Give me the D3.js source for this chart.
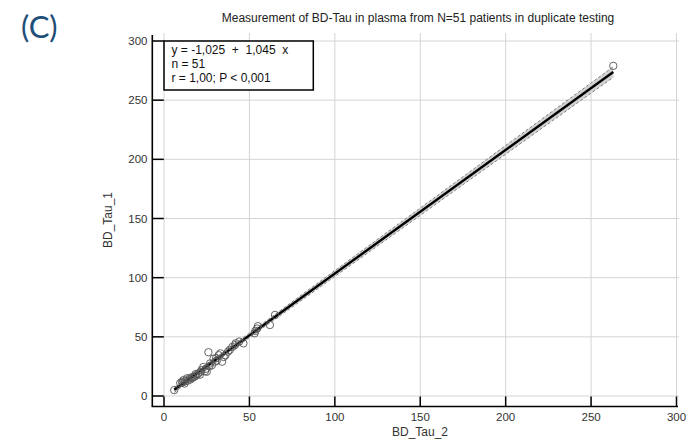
<!DOCTYPE html>
<html>
<head>
<meta charset="utf-8">
<script src="https://cdn.jsdelivr.net/npm/d3@7"></script>
<style>
  html, body { margin: 0; padding: 0; background: #fff; }
  svg { display: block; }
  text { font-family: "Liberation Sans", Arial, sans-serif; }
</style>
</head>
<body>
<svg id="chart" width="687" height="443"></svg>
<script>
// ---- data ----
const bdTau2 = [6, 9.5, 10.5, 11.5, 12, 12.5, 13.5, 14, 15, 15.5, 16.5, 17, 18, 19, 20, 21, 22, 23, 24, 25,
  26, 26.5, 27, 28, 29, 30, 31, 32, 33, 34, 35, 36, 37.5, 38.5, 40, 41.5, 42, 46.5, 53, 53.5,
  54.5, 55, 62, 65, 263, 18.5, 21.5, 24.5, 30.5, 44, 11];
const bdTau1 = [5, 11, 12, 13.5, 10.5, 12.5, 15, 13, 15, 14, 16, 15.5, 16.5, 17.5, 19, 18, 22, 24.5, 21, 20.5,
  37, 25, 27.5, 26, 31.5, 29, 30, 34.5, 36, 29, 33, 34.5, 37.5, 39, 41.5, 43, 44.5, 44.5, 53, 55,
  57, 59, 60, 68.5, 279, 18.5, 20.5, 23, 32, 46, 11.5];
const fitIntercept = -1.025;
const fitSlope = 1.045;
const bandX  = [6, 40, 100, 160, 220, 263];
const bandHi = [7.4, 42.6, 106.0, 169.4, 232.8, 278.3];
const bandLo = [3.0, 39.0, 101.0, 163.0, 225.0, 269.3];
const xTicks = [0, 50, 100, 150, 200, 250, 300];
const yTicks = [0, 50, 100, 150, 200, 250, 300];
const legendLines = ["y = -1,025  +  1,045  x", "n = 51", "r = 1,00; P < 0,001"];
const titleText = "Measurement of BD-Tau in plasma from N=51 patients in duplicate testing";
const xLabel = "BD_Tau_2";
const yLabel = "BD_Tau_1";
const panelLabel = "(C)";

// ---- layout ----
const svg = d3.select("#chart");
const x = d3.scaleLinear().domain([0, 300]).range([164, 676.5]);
const y = d3.scaleLinear().domain([0, 300]).range([396, 41]);
const pLeft = 152.3, pRight = 679, pTop = 33, pBottom = 406.5;

// panel label
svg.append("text").attr("x", 21).attr("y", 38)
  .attr("fill", "#1F4E79").attr("font-size", 31)
  .style("font-family", "Lato, 'Open Sans', sans-serif")
  .text(panelLabel);

// title
svg.append("text").attr("x", 418).attr("y", 22).attr("text-anchor", "middle")
  .attr("font-size", 12).attr("fill", "#222").text(titleText);

// grid
const g = svg.append("g");
g.selectAll(".vg").data(xTicks).join("line")
  .attr("x1", d => x(d)).attr("x2", d => x(d)).attr("y1", pTop).attr("y2", pBottom)
  .attr("stroke", "#d4d4d4").attr("stroke-width", 1);
g.selectAll(".hg").data(yTicks).join("line")
  .attr("x1", pLeft).attr("x2", pRight).attr("y1", d => y(d)).attr("y2", d => y(d))
  .attr("stroke", "#d4d4d4").attr("stroke-width", 1);

// confidence band
const bandData = bandX.map((v, i) => ({x: v, lo: bandLo[i], hi: bandHi[i]}));
g.append("path").datum(bandData)
  .attr("d", d3.area().x(d => x(d.x)).y0(d => y(d.lo)).y1(d => y(d.hi)))
  .attr("fill", "#d2d2d2");
["hi", "lo"].forEach(k => {
  g.append("path").datum(bandData)
    .attr("d", d3.line().x(d => x(d.x)).y(d => y(d[k])))
    .attr("fill", "none").attr("stroke", "#666").attr("stroke-width", 0.8)
    .attr("stroke-dasharray", "3,2");
});

// regression line
const xMin = d3.min(bdTau2), xMax = d3.max(bdTau2);
g.append("line")
  .attr("x1", x(xMin)).attr("y1", y(fitIntercept + fitSlope * xMin))
  .attr("x2", x(xMax)).attr("y2", y(fitIntercept + fitSlope * xMax))
  .attr("stroke", "#000").attr("stroke-width", 2.4);

// points
g.selectAll(".pt").data(bdTau2.map((v, i) => [v, bdTau1[i]])).join("circle")
  .attr("cx", d => x(d[0])).attr("cy", d => y(d[1])).attr("r", 3.7)
  .attr("fill", "none").attr("stroke", "#555").attr("stroke-width", 0.9);

// axes
const ax = svg.append("g").attr("stroke", "#000");
ax.append("line").attr("x1", pLeft).attr("x2", pLeft).attr("y1", pTop + 2).attr("y2", pBottom + 0.5).attr("stroke-width", 1.6);
ax.append("line").attr("x1", pLeft - 0.5).attr("x2", 678).attr("y1", pBottom).attr("y2", pBottom).attr("stroke-width", 1.6);
ax.selectAll(".xt").data(xTicks).join("line")
  .attr("x1", d => x(d)).attr("x2", d => x(d)).attr("y1", pBottom).attr("y2", pBottom - 10).attr("stroke-width", 1.5);
ax.selectAll(".yt").data(yTicks).join("line")
  .attr("x1", pLeft).attr("x2", pLeft + 11.5).attr("y1", d => y(d)).attr("y2", d => y(d)).attr("stroke-width", 1.5);

svg.selectAll(".xl").data(xTicks).join("text")
  .attr("x", d => x(d)).attr("y", 421).attr("text-anchor", "middle")
  .attr("font-size", 11.5).attr("fill", "#333").text(d => d);
svg.selectAll(".yl").data(yTicks).join("text")
  .attr("x", 147.5).attr("y", d => y(d) + 4).attr("text-anchor", "end")
  .attr("font-size", 11.5).attr("fill", "#333").text(d => d);

svg.append("text").attr("x", 420).attr("y", 436).attr("text-anchor", "middle")
  .attr("font-size", 12).attr("fill", "#333").text(xLabel);
svg.append("text").attr("transform", "translate(112,220) rotate(-90)").attr("text-anchor", "middle")
  .attr("font-size", 12).attr("fill", "#333").text(yLabel);

// legend box
svg.append("rect").attr("x", 164).attr("y", 41).attr("width", 149.3).attr("height", 49)
  .attr("fill", "#fff").attr("stroke", "#000").attr("stroke-width", 1.5);
const legY = [54, 67.5, 82];
svg.selectAll(".lg").data(legendLines).join("text")
  .attr("x", 171.5).attr("y", (d, i) => legY[i])
  .attr("font-size", 12).attr("fill", "#111").style("white-space", "pre")
  .text(d => d);
</script>
</body>
</html>
